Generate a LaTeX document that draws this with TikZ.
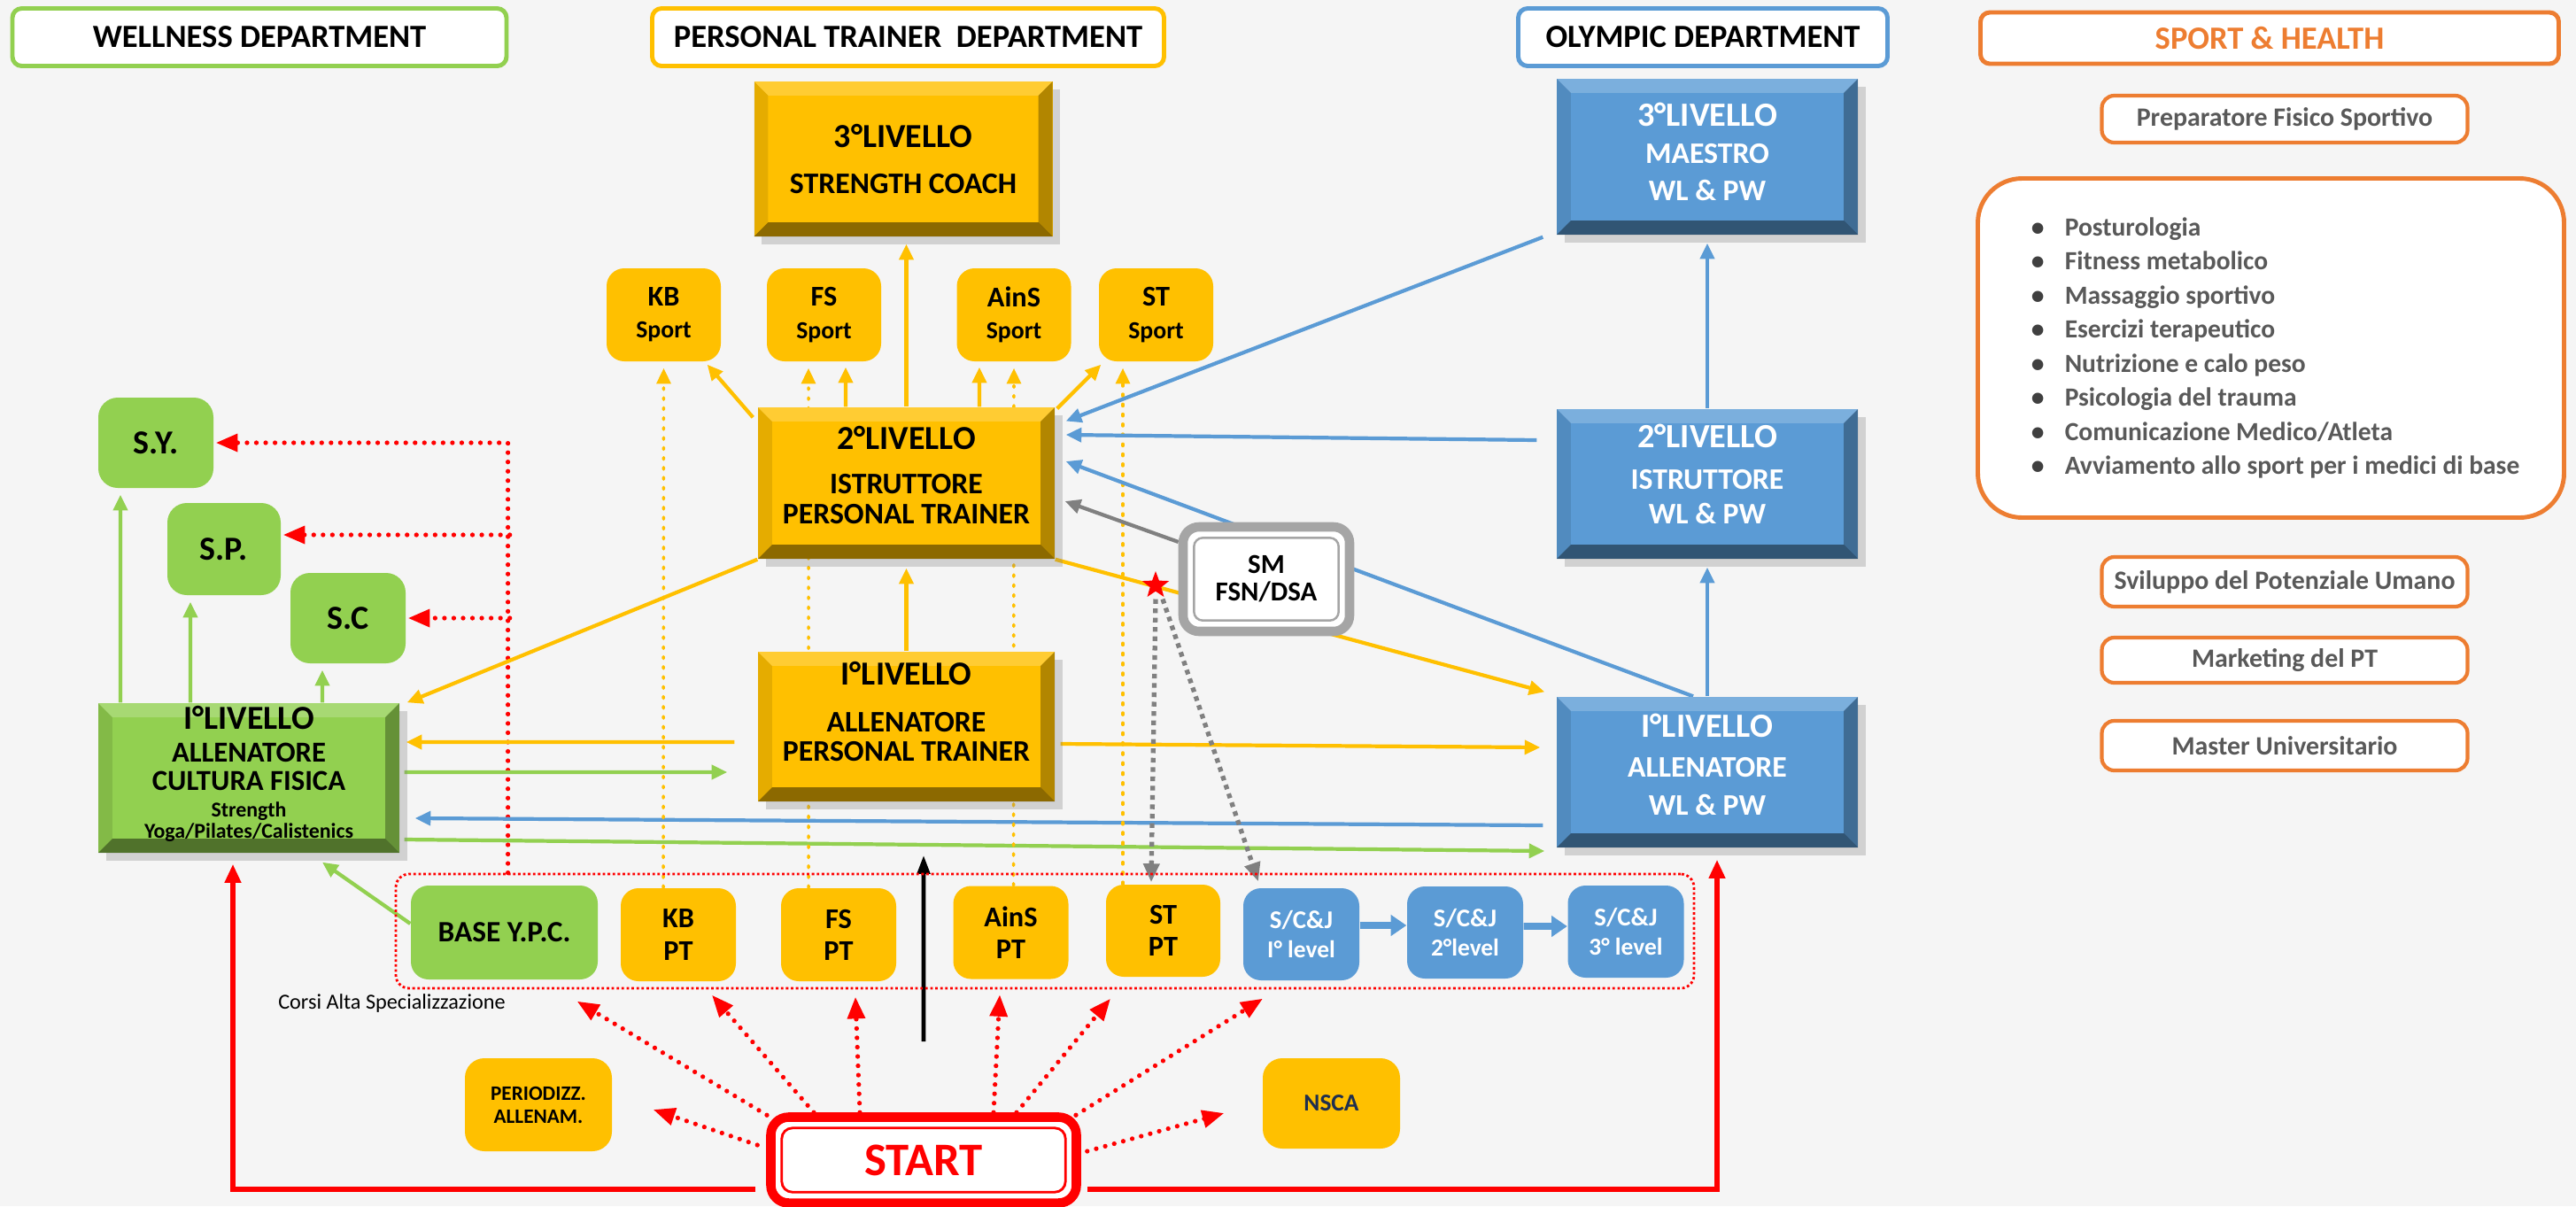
\documentclass[tikz,border=0pt]{standalone}
\usepackage{fontspec}
\setmainfont{Carlito}
\usepackage{xcolor}
\usetikzlibrary{arrows.meta,shapes.geometric,shadows}
\definecolor{wgreen}{HTML}{92D050}
\definecolor{pgold}{HTML}{FFC000}
\definecolor{oblue}{HTML}{5B9BD5}
\definecolor{shorange}{HTML}{ED7D31}
\definecolor{shgray}{HTML}{595959}
\definecolor{canvasgray}{HTML}{F5F5F5}
\definecolor{nscanavy}{HTML}{1F2F4F}
\definecolor{smgray}{HTML}{A5A5A5}
\newcommand{\fsz}[2]{\fontsize{#1}{#2}\selectfont}
\newcommand{\tightskip}{\lineskiplimit-20pt\relax}
\newcommand{\bvw}{4.5pt}
\newcommand{\itm}{\makebox[0.48cm][l]{\hspace{0.1cm}\textcolor{black!75}{\textbullet}}}
\pgfdeclarelayer{canvas}
\pgfdeclarelayer{links}
\pgfsetlayers{canvas,links,main}

\begin{document}
\begin{tikzpicture}[x=1cm, y=-1cm,
  bevel/.style={path picture={
    \coordinate (bnw) at (path picture bounding box.north west);
    \coordinate (bne) at (path picture bounding box.north east);
    \coordinate (bsw) at (path picture bounding box.south west);
    \coordinate (bse) at (path picture bounding box.south east);
    \fill[white, opacity=0.2]  (bnw) -- (bne) -- ([shift={(-\bvw,-\bvw)}]bne) -- ([shift={(\bvw,-\bvw)}]bnw) -- cycle;
    \fill[black, opacity=0.1]  (bnw) -- (bsw) -- ([shift={(\bvw,\bvw)}]bsw) -- ([shift={(\bvw,-\bvw)}]bnw) -- cycle;
    \fill[black, opacity=0.3]  (bne) -- (bse) -- ([shift={(-\bvw,\bvw)}]bse) -- ([shift={(-\bvw,-\bvw)}]bne) -- cycle;
    \fill[black, opacity=0.45] (bsw) -- (bse) -- ([shift={(-\bvw,\bvw)}]bse) -- ([shift={(\bvw,\bvw)}]bsw) -- cycle;
  }},
  dept/.style={draw, line width=1.4pt, rounded corners=3pt, fill=white, inner sep=0pt,
    minimum height=0.65cm, font=\bfseries\fsz{10.4}{12}},
  shbox/.style={draw=shorange, line width=1.2pt, rounded corners=4pt, fill=white, inner sep=0pt,
    minimum width=4.13cm, text=shgray, font=\bfseries\fsz{8.5}{10}},
  level/.style={bevel, inner sep=0pt, align=center, font=\bfseries\fsz{9.6}{9.6},
    drop shadow={shadow xshift=2.5pt, shadow yshift=-2.5pt, opacity=0.3}},
  tile/.style={rounded corners=0.2cm, inner sep=0pt, align=center,
    minimum width=1.30cm, minimum height=1.05cm, font=\bfseries\fsz{9.2}{10.3}},
  yarr/.style={draw=pgold, line width=1.2pt, -{Triangle[length=5pt,width=4.5pt]}},
  garr/.style={draw=wgreen, line width=1.2pt, -{Triangle[length=5pt,width=4.5pt]}},
  barr/.style={draw=oblue, line width=1.2pt, -{Triangle[length=5pt,width=4.5pt]}},
  gyarr/.style={draw=gray, line width=1.2pt, -{Triangle[length=5pt,width=4.5pt]}},
  ydot/.style={draw=pgold, line width=1pt, line cap=round, dash pattern=on 0.6pt off 2.6pt,
    -{Triangle[length=5pt,width=4.5pt]}},
  rdot/.style={draw=red, line width=1.5pt, line cap=round, dash pattern=on 0pt off 3pt,
    -{Triangle[length=7pt,width=5.5pt]}},
  gydot/.style={draw=gray, line width=1.5pt, dash pattern=on 1.5pt off 1.5pt,
    -{Triangle[length=6pt,width=5pt]}},
  rline/.style={draw=red, line width=1.6pt, -{Triangle[length=6pt,width=5pt]}},
  scjarr/.style={draw=oblue, line width=2.2pt, -{Triangle[length=5pt,width=6.5pt]}},
  blk/.style={draw=black, line width=1.3pt, -{Triangle[length=6pt,width=4pt]}}
]
  \useasboundingbox (0,0) rectangle (29.09,13.62);
  \begin{pgfonlayer}{canvas}
    \fill[canvasgray] (0,0) rectangle (29.09,13.62);
  \end{pgfonlayer}

  % --- Department headers ---
  \node[dept, draw=wgreen, minimum width=5.58cm]   (hwell)  at (2.93,0.42)   {WELLNESS DEPARTMENT};
  \node[dept, draw=pgold, minimum width=5.78cm]    (hpt)    at (10.255,0.42) {PERSONAL TRAINER~ DEPARTMENT};
  \node[dept, draw=oblue, minimum width=4.17cm]    (holy)   at (19.23,0.42)  {OLYMPIC DEPARTMENT};
  \node[dept, draw=shorange, text=shorange, minimum width=6.53cm, minimum height=0.58cm]
                                                   (hsport) at (25.63,0.43)  {\raisebox{-2pt}{SPORT \& HEALTH}};

  % --- Sport & Health column ---
  \node[shbox, minimum height=0.53cm] (prep) at (25.80,1.345) {Preparatore Fisico Sportivo};
  \node[shbox, line width=1.4pt, rounded corners=0.5cm, minimum width=6.62cm, minimum height=3.83cm,
    align=left, font=\bfseries\fsz{8.4}{10.95}] (topics) at (25.645,3.93)
    {\itm Posturologia\\\itm Fitness metabolico\\\itm Massaggio sportivo\\\itm Esercizi terapeutico\\
     \itm Nutrizione e calo peso\\\itm Psicologia del trauma\\\itm Comunicazione Medico/Atleta\\
     \itm Avviamento allo sport per i medici di base};
  \node[shbox, minimum height=0.56cm] (svil) at (25.80,6.57)  {Sviluppo del Potenziale Umano};
  \node[shbox, minimum height=0.51cm] (mkt)  at (25.80,7.455) {Marketing del PT};
  \node[shbox, minimum height=0.56cm] (mast) at (25.80,8.42)  {Master Universitario};

  % --- Personal trainer levels ---
  \node[level, fill=pgold, minimum width=3.37cm, minimum height=1.75cm] (pt3) at (10.20,1.795)
    {{\fsz{10.8}{9.6}3°LIVELLO}\\[5.2pt]STRENGTH COACH};
  \node[level, fill=pgold, minimum width=3.35cm, minimum height=1.71cm] (pt2) at (10.235,5.455)
    {{\fsz{10.8}{9.6}2°LIVELLO}\\[4.6pt]ISTRUTTORE\\PERSONAL TRAINER\\[-4.4pt]\mbox{}};
  \node[level, fill=pgold, minimum width=3.35cm, minimum height=1.69cm] (pt1) at (10.235,8.205)
    {{\fsz{10.8}{9.6}I°LIVELLO}\\[5.4pt]ALLENATORE\\PERSONAL TRAINER\\\mbox{}};

  % --- Olympic levels ---
  \node[level, fill=oblue, text=white, font=\bfseries\fsz{9.6}{12}, minimum width=3.40cm, minimum height=1.76cm]
    (oly3) at (19.28,1.77) {{\fsz{10.9}{12}3°LIVELLO}\\MAESTRO\\WL \& PW\\[-8.8pt]\mbox{}};
  \node[level, fill=oblue, text=white, font=\bfseries\fsz{9.6}{12}, minimum width=3.40cm, minimum height=1.69cm]
    (oly2) at (19.28,5.465) {{\fsz{10.9}{12}2°LIVELLO}\\[1.2pt]ISTRUTTORE\\[-1pt]WL \& PW\\[-5.6pt]\mbox{}};
  \node[level, fill=oblue, text=white, font=\bfseries\fsz{9.6}{12}, minimum width=3.40cm, minimum height=1.70cm]
    (oly1) at (19.28,8.72) {{\fsz{10.9}{12}I°LIVELLO}\\[1pt]ALLENATORE\\WL \& PW\\[-6.8pt]\mbox{}};

  % --- Wellness level and specialisations ---
  \node[level, fill=wgreen, font=\bfseries\fsz{9.3}{6.2}\tightskip, minimum width=3.40cm, minimum height=1.69cm]
    (well1) at (2.81,8.785) {{\fsz{10.8}{6.2}I°LIVELLO}\\[4.4pt]ALLENATORE\\[2.7pt]CULTURA FISICA\\[2.4pt]
      {\fsz{6.8}{6.2}Strength}\\[0.7pt]{\fsz{6.8}{6.2}Yoga/Pilates/Calistenics}\\[-2.5pt]\mbox{}};
  \node[tile, fill=wgreen, rounded corners=0.22cm, minimum height=1.02cm, font=\bfseries\fsz{10.8}{12}] (sy) at (1.76,5.00) {S.Y.};
  \node[tile, fill=wgreen, rounded corners=0.22cm, minimum width=1.28cm, minimum height=1.04cm, font=\bfseries\fsz{10.8}{12}] (sp) at (2.53,6.20) {S.P.};
  \node[tile, fill=wgreen, rounded corners=0.22cm, minimum height=1.02cm, font=\bfseries\fsz{10.8}{12}] (sc) at (3.93,6.98) {S.C};

  % --- Sport boxes above level 2 ---
  \node[tile, fill=pgold, minimum width=1.29cm] (kbs)   at (7.495,3.555)  {KB\\{\fsz{7.9}{9}Sport}};
  \node[tile, fill=pgold, minimum width=1.29cm] (fss)   at (9.305,3.555)  {FS\\{\fsz{7.9}{9}Sport}};
  \node[tile, fill=pgold, minimum width=1.29cm] (ainss) at (11.45,3.555)  {AinS\\{\fsz{7.9}{9}Sport}};
  \node[tile, fill=pgold, minimum width=1.29cm] (sts)   at (13.055,3.555) {ST\\{\fsz{7.9}{9}Sport}};

  % --- Specialisation courses ---
  \node[draw=red, line width=0.8pt, dash pattern=on 0.8pt off 0.8pt, rounded corners=0.15cm,
    minimum width=14.66cm, minimum height=1.29cm] (spec) at (11.80,10.515) {};
  \node[tile, fill=wgreen, minimum width=2.11cm, minimum height=1.06cm, font=\bfseries\fsz{9.5}{11}] (base) at (5.695,10.53) {BASE Y.P.C.};
  \node[tile, fill=pgold] (kbpt)   at (7.66,10.555)  {KB\\PT};
  \node[tile, fill=pgold] (fspt)   at (9.47,10.555)  {FS\\PT};
  \node[tile, fill=pgold] (ainspt) at (11.415,10.53) {AinS\\PT};
  \node[tile, fill=pgold, minimum width=1.29cm, minimum height=1.04cm] (stpt) at (13.135,10.51) {ST\\PT};
  \node[tile, fill=oblue, text=white, minimum width=1.31cm, minimum height=1.04cm, font=\bfseries\fsz{8.2}{9.4}] (scj1) at (14.695,10.55) {S/C\&J\\{\fsz{7.8}{9}I° level}};
  \node[tile, fill=oblue, text=white, minimum width=1.31cm, minimum height=1.04cm, font=\bfseries\fsz{8.2}{9.4}] (scj2) at (16.545,10.53) {S/C\&J\\{\fsz{7.8}{9}2°level}};
  \node[tile, fill=oblue, text=white, minimum width=1.31cm, minimum height=1.04cm, font=\bfseries\fsz{8.2}{9.4}] (scj3) at (18.36,10.52)  {S/C\&J\\{\fsz{7.8}{9}3° level}};
  \node[font=\fsz{6.9}{8}] (corsi) at (4.425,11.33) {Corsi Alta Specializzazione};

  % --- Bottom row ---
  \node[tile, fill=pgold, rounded corners=0.22cm, minimum width=1.66cm, font=\bfseries\fsz{6.6}{7.4}] (period) at (6.08,12.475) {PERIODIZZ.\\ALLENAM.};
  \node[tile, fill=pgold, rounded corners=0.22cm, minimum width=1.55cm, minimum height=1.02cm, text=nscanavy, font=\bfseries\fsz{7.8}{9}] (nsca) at (15.035,12.46) {NSCA};
  \node[draw=red, line width=3pt, fill=white, rounded corners=0.2cm, minimum width=3.45cm, minimum height=0.97cm,
    text=red, font=\bfseries\fsz{15}{16}] (start) at (10.43,13.10) {START};
  \draw[red, line width=0.8pt, rounded corners=0.12cm] ([shift={(5pt,5pt)}]start.south west) rectangle ([shift={(-5pt,-5pt)}]start.north east);

  % --- SM box and star ---
  \node[draw=smgray, line width=3pt, fill=white, rounded corners=0.18cm, minimum width=1.88cm, minimum height=1.18cm,
    align=center, font=\bfseries\fsz{8.8}{8.8}] (sm) at (14.30,6.54) {SM\\FSN/DSA};
  \draw[smgray, line width=0.7pt, rounded corners=0.1cm] ([shift={(5pt,5pt)}]sm.south west) rectangle ([shift={(-5pt,-5pt)}]sm.north east);
  \node[star, star points=5, star point ratio=2.4, fill=red, inner sep=0pt, minimum size=0.32cm] (smstar) at (13.05,6.61) {};

  \begin{pgfonlayer}{links}
  % --- Wellness: level to specialisations ---
  \draw[garr] ([shift={(-1.45,0)}]well1.north) -- ([shift={(-0.40,0.07)}]sy.south);
  \draw[garr] ([shift={(-0.66,0)}]well1.north) -- ([shift={(-0.38,0.07)}]sp.south);
  \draw[garr] ([shift={(0.83,0)}]well1.north) -- ([shift={(-0.29,0.07)}]sc.south);
  \draw[rdot] ([shift={(1.28,0)}]spec.north west) |- ([shift={(0.02,0)}]sy.east);
  \draw[rdot] ([shift={(2.58,-0.16)}]sp.east) -- ([shift={(0.02,-0.16)}]sp.east);
  \draw[rdot] ([shift={(1.17,0)}]sc.east) -- ([shift={(0.02,0)}]sc.east);
  \draw[garr] ([shift={(0,-0.1)}]base.west) -- ([shift={(0.83,0.1)}]well1.south);

  % --- Cross links between departments ---
  \draw[yarr] (pt2.south west) -- ([shift={(0.08,0)}]well1.north east);
  \draw[yarr] ([shift={(-0.26,0.175)}]pt1.west) -- ([shift={(0.07,-0.405)}]well1.east);
  \draw[garr] ([shift={(0.05,-0.065)}]well1.east) -- ([shift={(-0.34,0.515)}]pt1.west);
  \draw[barr] ([shift={(-0.15,0.60)}]oly1.west) -- ([shift={(0.17,0.455)}]well1.east);
  \draw[garr] ([shift={(0.05,0.695)}]well1.east) -- ([shift={(-0.13,0.89)}]oly1.west);
  \draw[yarr] ([shift={(0.06,0.195)}]pt1.east) -- ([shift={(-0.18,-0.28)}]oly1.west);
  \draw[yarr] (pt2.south east) -- ([shift={(-0.13,-0.05)}]oly1.north west);

  % --- Personal trainer levels and sport boxes ---
  \draw[yarr] (pt1.north) -- ([shift={(0,0.1)}]pt2.south);
  \draw[yarr] (pt2.north) -- ([shift={(0.035,0.08)}]pt3.south);
  \draw[yarr] ([shift={(-0.05,0.12)}]pt2.north west) -- ([shift={(-0.16,0.03)}]kbs.south east);
  \draw[yarr] ([shift={(-0.685,0)}]pt2.north) -- ([shift={(0.245,0.06)}]fss.south);
  \draw[yarr] ([shift={(0.825,0)}]pt2.north) -- ([shift={(-0.39,0.06)}]ainss.south);
  \draw[yarr] ([shift={(0.02,0.02)}]pt2.north east) -- ([shift={(0.03,0.03)}]sts.south west);
  \draw[ydot] ([shift={(-0.17,0)}]kbpt.north) -- ([shift={(0,0.07)}]kbs.south);
  \draw[ydot] ([shift={(-0.34,0)}]fspt.north) -- ([shift={(-0.175,0.07)}]fss.south);
  \draw[ydot] ([shift={(0.03,0)}]ainspt.north) -- ([shift={(0,0.07)}]ainss.south);
  \draw[ydot] ([shift={(-0.455,0)}]stpt.north) -- ([shift={(-0.375,0.07)}]sts.south);

  % --- Olympic levels ---
  \draw[barr] (oly1.north) -- ([shift={(0,0.09)}]oly2.south);
  \draw[barr] (oly2.north) -- ([shift={(0,0.09)}]oly3.south);
  \draw[barr] ([shift={(-0.15,0.02)}]oly3.south west) -- ([shift={(0.12,-0.70)}]pt2.east);
  \draw[barr] ([shift={(-0.22,-0.495)}]oly2.west) -- ([shift={(0.12,-0.545)}]pt2.east);
  \draw[barr] ([shift={(-0.16,0)}]oly1.north) -- ([shift={(0.12,-0.245)}]pt2.east);
  \draw[gyarr] ([shift={(0,-0.42)}]sm.west) -- ([shift={(0.11,0.205)}]pt2.east);
  \draw[gydot] ([shift={(0,0.08)}]smstar.south) -- ([shift={(-0.135,-0.02)}]stpt.north);
  \draw[gydot] ([shift={(0.08,0.08)}]smstar.south) -- ([shift={(-0.485,-0.07)}]scj1.north);
  \draw[scjarr] ([shift={(0,-0.1)}]scj1.east) -- ([shift={(0,-0.08)}]scj2.west);
  \draw[scjarr] ([shift={(0,-0.07)}]scj2.east) -- ([shift={(0,-0.06)}]scj3.west);

  % --- From START ---
  \draw[rline] ([shift={(-0.12,0.33)}]start.west) -| ([shift={(-0.18,0.12)}]well1.south);
  \draw[rline] ([shift={(0.07,0.33)}]start.east) -| ([shift={(0.11,0.13)}]oly1.south);
  \draw[blk] ([shift={(0,-0.8)}]start.north) -- ([shift={(0.195,0.6)}]pt1.south);
  \draw[rdot] ([shift={(-1.77,0.03)}]start.north) -- ([shift={(-0.24,0.24)}]base.south east);
  \draw[rdot] ([shift={(-1.24,0)}]start.north) -- ([shift={(0.38,0.15)}]kbpt.south);
  \draw[rdot] ([shift={(-0.72,0)}]start.north) -- ([shift={(0.19,0.17)}]fspt.south);
  \draw[rdot] ([shift={(0.79,0)}]start.north) -- ([shift={(-0.125,0.17)}]ainspt.south);
  \draw[rdot] ([shift={(1.05,0)}]start.north) -- ([shift={(-0.595,0.24)}]stpt.south);
  \draw[rdot] ([shift={(1.72,0.03)}]start.north) -- ([shift={(-0.435,0.2)}]scj1.south);
  \draw[rdot] ([shift={(-0.1,-0.17)}]start.west) -- ([shift={(0.46,0.055)}]period.east);
  \draw[rdot] ([shift={(0.07,-0.1)}]start.east) -- ([shift={(-0.43,0.11)}]nsca.west);
  \end{pgfonlayer}
\end{tikzpicture}
\end{document}
